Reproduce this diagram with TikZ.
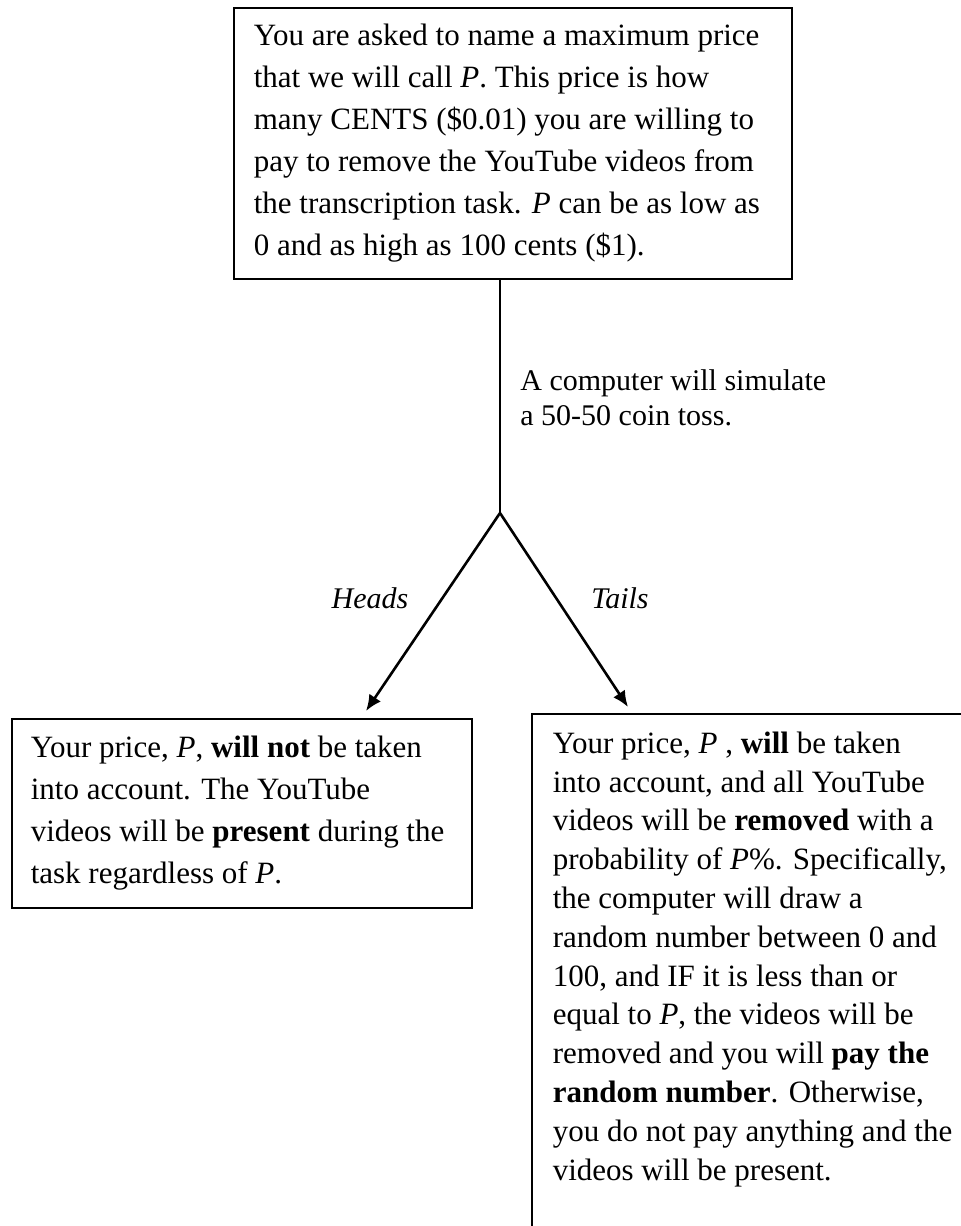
\documentclass[tikz,border=0pt]{standalone}
\usepackage{fontspec}
\setmainfont{Liberation Serif}
\usetikzlibrary{arrows.meta}

\begin{document}
\begin{tikzpicture}[x=0.5pt, y=-0.5pt,
  box/.style={draw=black, line width=0.8pt, inner ysep=0pt, anchor=north west},
  branch/.style={line width=1.3pt, -{Latex[length=8pt,width=7pt]}}]
  \clip (0,0) rectangle (961,1226);

  \node (ask) [box, inner xsep=10pt, minimum height=135.5pt] at (233,7)
  {\parbox{259pt}{\fontsize{15.5}{21}\selectfont\raggedright
   You are asked to name a maximum price\\
   that we will call \textit{P}. This price is how\\
   many CENTS (\$0.01) you are willing to\\
   pay to remove the YouTube videos from\\
   the transcription task. \textit{P} can be as low as\\
   0 and as high as 100 cents (\$1).}};

  \node (coin) [anchor=north west, align=left, inner sep=0pt, font=\fontsize{15}{17.5}\selectfont] at (520,369)
  {A computer will simulate\\ a 50-50 coin toss.};

  \coordinate (toss) at (500,513);
  \coordinate (headstip) at (366,711);
  \coordinate (tailstip) at (628,707);

  \draw [line width=1.4pt] (ask.south -| toss) -- (toss);
  \draw [branch] (toss) -- (headstip);
  \draw [branch] (toss) -- (tailstip);

  \node (heads) [anchor=base, font=\fontsize{15}{18}\selectfont\itshape] at (370,608) {Heads};
  \node (tails) [anchor=base, font=\fontsize{15}{18}\selectfont\itshape] at (620,608) {Tails};

  \node (keep) [box, inner xsep=9.5pt, minimum height=94.5pt] at (11,718)
  {\parbox{211pt}{\fontsize{15.5}{21}\selectfont\raggedright
   Your price, \textit{P}, \textbf{will not} be taken\\
   into account. The YouTube\\
   videos will be \textbf{present} during the\\
   task regardless of \textit{P}.}};

  \node (remove) [box, inner xsep=10.5pt, inner ysep=9pt] at (531,713)
  {\parbox[t][300pt][t]{215pt}{\fontsize{15.5}{19.4}\selectfont\raggedright
   Your price, \textit{P} , \textbf{will} be taken\\
   into account, and all YouTube\\
   videos will be \textbf{removed} with a\\
   probability of \textit{P}\%. Specifically,\\
   the computer will draw a\\
   random number between 0 and\\
   100, and IF it is less than or\\
   equal to \textit{P}, the videos will be\\
   removed and you will \textbf{pay the}\\
   \textbf{random number}. Otherwise,\\
   you do not pay anything and the\\
   videos will be present.}};
\end{tikzpicture}
\end{document}
